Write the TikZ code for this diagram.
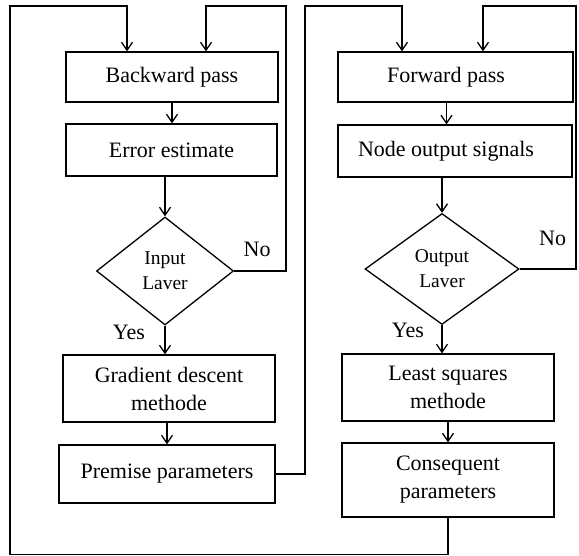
\documentclass[tikz,border=0pt]{standalone}
\usepackage{fontspec}
\setmainfont{Liberation Serif}
\usetikzlibrary{calc, shapes.geometric, arrows.meta}

\begin{document}
\begin{tikzpicture}[x=1pt, y=-1pt, line width=1.3pt,
		>={Straight Barb[length=8pt, width=11pt]},
		box/.style = {draw, rectangle, align=center, inner sep=0pt, font=\fontsize{22}{28}\selectfont},
		decision/.style = {draw, diamond, align=center, inner sep=0pt, font=\fontsize{19.5}{25}\selectfont},
		answer/.style = {inner sep=0pt, font=\fontsize{22}{26}\selectfont}]
		
		\useasboundingbox (0,0) rectangle (579,556);
		
		%backward pass (left column)
		\node (back) [box, minimum width=212pt, minimum height=50pt] at (172,77) {Backward pass};
		\node (err) [box, minimum width=211pt, minimum height=52pt] at (171.5,150) {Error estimate};
		\node (in) [decision, minimum width=137pt, minimum height=108pt] at (165,271) {Input\\Laver};
		\node (grad) [box, minimum width=212pt, minimum height=67pt] at (169,388.5) {Gradient descent\\methode};
		\node (prem) [box, minimum width=216pt, minimum height=58pt] at (167,474) {Premise parameters};
		
		%forward pass (right column), top two texts sit left of centre
		\node (fwd) [box, minimum width=235pt, minimum height=50pt] at (455.5,77) {\hspace*{-19pt}Forward pass};
		\node (nos) [box, minimum width=234pt, minimum height=52pt] at (455,151) {\hspace*{-18pt}Node output signals};
		\node (out) [decision, minimum width=154pt, minimum height=111pt] at (442,269) {Output\\Laver};
		\node (lsq) [box, minimum width=212pt, minimum height=67pt] at (448,387.5) {Least squares\\methode};
		\node (cons) [box, minimum width=212pt, minimum height=74pt] at (448,480) {Consequent\\parameters};
		
		%flow down each column
		\draw [->] (back) -- (back |- err.north);
		\draw [->] (in.north |- err.south) -- (in.north);
		\draw [->] (in.south) -- (in.south |- grad.north);
		\draw [->] (prem.north |- grad.south) -- (prem.north);
		
		\draw [->] ($(fwd.south)+(-9,0)$) -- ($(nos.north)+(-8.5,0)$);
		\draw [->] (out.north |- nos.south) -- (out.north);
		\draw [->] (out.south) -- (out.south |- lsq.north);
		\draw [->] (lsq.south) -- (cons.north);
		
		%loops back to the top
		\draw [->] (cons.south) -- ++(0,37) -| (10,6) -| ($(back.north)+(-45,0)$);
		\draw [->] (in.east) -| (286,6) -| ($(back.north)+(34,0)$);
		\draw [->] (prem.east) -| (305,6) -| ($(fwd.north)+(-53.5,0)$);
		\draw [->] (out.east) -| (576,6) -| ($(fwd.north)+(27.5,0)$);
		
		%answers
		\node (no1) [answer] at ($(in.east)+(23,-22)$) {No};
		\node (no2) [answer] at ($(out.east)+(33,-31)$) {No};
		\node (yes1) [answer] at ($(in.south)+(-36,7)$) {Yes};
		\node (yes2) [answer] at ($(out.south)+(-34,5)$) {Yes};
	\end{tikzpicture}
\end{document}
